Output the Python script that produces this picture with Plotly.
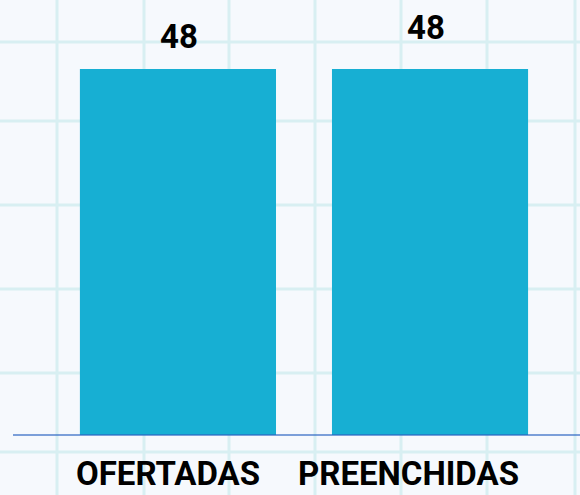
import plotly.graph_objects as go

categories = ["OFERTADAS", "PREENCHIDAS"]
values = [48, 48]
value_labels = ["48", "48"]

W, H = 580, 495
bg = "#f6f9fd"
grid_color = "#d8eff2"
bar_color = "#17afd3"

fig = go.Figure()
fig.add_trace(go.Bar(
    x=categories, y=values, marker_color=bar_color, marker_line_width=0,
    hoverinfo="skip",
))

shapes = []
# graph-paper background texture (pixel positions → paper fractions)
for px in [57, 144, 229, 315, 401, 487, 575]:
    shapes.append(dict(type="line", xref="paper", yref="paper",
                       x0=px / W, x1=px / W, y0=0, y1=1,
                       line=dict(color=grid_color, width=3), layer="below"))
for py in [42, 121, 205, 289, 373, 452]:
    shapes.append(dict(type="line", xref="paper", yref="paper",
                       x0=0, x1=1, y0=1 - py / H, y1=1 - py / H,
                       line=dict(color=grid_color, width=3), layer="below"))
# baseline
shapes.append(dict(type="line", xref="paper", yref="y",
                   x0=13 / W, x1=1, y0=0, y1=0,
                   line=dict(color="rgba(42,99,193,0.6)", width=2), layer="above"))

annotations = []
label_shifts = [33, 42]
label_xshift = [1, -4]
for cat, v, lab, ys, xs in zip(categories, values, value_labels, label_shifts, label_xshift):
    annotations.append(dict(x=cat, y=v, text=lab, showarrow=False,
                            yanchor="middle", yshift=ys, xshift=xs,
                            font=dict(family="Roboto", size=33, color="#000000", weight=700)))
cat_xshift = [-10, -22]
for cat, xs in zip(categories, cat_xshift):
    annotations.append(dict(x=cat, y=0, text=cat, showarrow=False,
                            yanchor="top", yshift=-17, xshift=xs,
                            font=dict(family="Roboto", size=33, color="#000000", weight=700)))

fig.update_layout(
    width=W, height=H,
    margin=dict(l=0, r=0, t=0, b=0),
    paper_bgcolor=bg, plot_bgcolor=bg,
    bargap=0.222,
    showlegend=False,
    xaxis=dict(range=[-0.706, 1.595], visible=False, fixedrange=True),
    yaxis=dict(range=[-7.87, 57.05], visible=False, fixedrange=True),
    shapes=shapes,
    annotations=annotations,
    hovermode=False,
)

fig.write_html(
    "out.html",
    config={"displayModeBar": False},
    post_script="document.body.style.margin='0';document.body.style.padding='0';document.body.style.overflow='hidden';document.documentElement.style.overflow='hidden';",
)
